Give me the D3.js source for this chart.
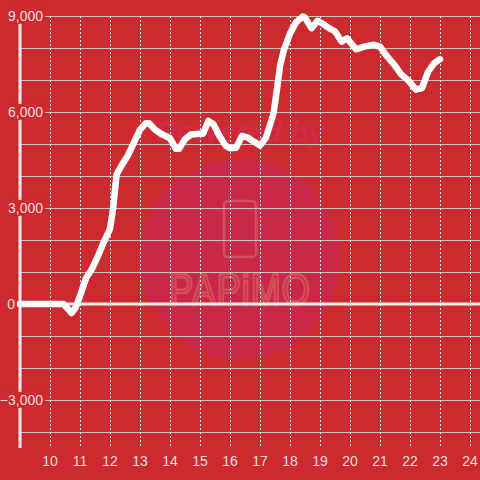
<!DOCTYPE html>
<html>
<head>
<meta charset="utf-8">
<script src="https://cdn.jsdelivr.net/npm/d3@7"></script>
<style>
  html, body { margin: 0; padding: 0; background: #cc2a2f; }
  #chart { width: 480px; height: 480px; }
  text { font-family: "Liberation Sans", Arial, sans-serif; }
</style>
</head>
<body>
<div id="chart"></div>
<script>
// ============================================================
//  Data (hour of day, value)
// ============================================================

const hours = [
  9.0, 10.45, 10.72, 10.85, 11.0, 11.2, 11.4, 11.6, 11.8, 12.0,
  12.1, 12.22, 12.4, 12.6, 12.8, 13.0, 13.2, 13.3, 13.5, 13.7,
  14.0, 14.2, 14.3, 14.5, 14.7, 15.0, 15.1, 15.28, 15.45, 15.65,
  15.85, 16.0, 16.2, 16.4, 16.6, 16.75, 17.0, 17.2, 17.45, 17.55,
  17.67, 17.8, 18.0, 18.2, 18.42, 18.5, 18.72, 18.92, 19.1, 19.3,
  19.5, 19.72, 19.9, 20.2, 20.5, 20.8, 21.0, 21.2, 21.5, 21.7,
  21.95, 22.2, 22.4, 22.6, 22.8, 23.0
];
const values = [
  0, 0, -280, -120, 250, 800, 1100, 1500, 1950, 2350,
  2950, 4050, 4350, 4650, 5050, 5450, 5650, 5650, 5450, 5320,
  5180, 4850, 4850, 5150, 5300, 5320, 5320, 5720, 5620, 5250,
  4950, 4870, 4880, 5250, 5200, 5100, 4950, 5200, 5950, 6600,
  7450, 7950, 8450, 8800, 8980, 8950, 8620, 8850, 8750, 8620,
  8520, 8200, 8300, 7960, 8050, 8100, 8040, 7780, 7450, 7180,
  6980, 6700, 6750, 7250, 7520, 7650
];

const xTicks = [10, 11, 12, 13, 14, 15, 16, 17, 18, 19, 20, 21, 22, 23, 24];
const yGrid = [-4000, -3000, -2000, -1000, 1000, 2000, 3000, 4000, 5000, 6000, 7000, 8000, 9000];
const yLabels = [-3000, 0, 3000, 6000, 9000];

// ============================================================
//  Chart
// ============================================================

const W = 480, H = 480;
const bg = '#cc2a2f';

const svg = d3.select('#chart').append('svg')
  .attr('width', W)
  .attr('height', H);

svg.append('rect').attr('width', W).attr('height', H).attr('fill', bg);

const x = d3.scaleLinear().domain([9, 24 + 1 / 3]).range([20, 480]);
const y = d3.scaleLinear().domain([-4500, 9000]).range([448, 16]);

// watermark
const wm = svg.append('g').attr('class', 'watermark');
wm.append('circle').attr('cx', 240).attr('cy', 259).attr('r', 100).attr('fill', '#ca2848');
wm.append('text')
  .attr('x', 241).attr('y', 142)
  .attr('text-anchor', 'middle')
  .attr('font-size', 30).attr('font-weight', 'bold').attr('font-style', 'italic')
  .attr('fill', '#d02c4a')
  .text('Powered by');
wm.append('rect')
  .attr('x', 224).attr('y', 201).attr('width', 32).attr('height', 56).attr('rx', 4)
  .attr('fill', 'none').attr('stroke', '#d4505a').attr('stroke-width', 2.5);
wm.append('text')
  .attr('transform', 'translate(240,305) scale(1,1.25)')
  .attr('text-anchor', 'middle')
  .attr('font-size', 36).attr('letter-spacing', 1)
  .attr('fill', 'none').attr('stroke', '#d4505a').attr('stroke-width', 2)
  .attr('font-family', '"DejaVu Sans Mono", monospace')
  .text('PAPiMO');

// horizontal grid
svg.append('g').selectAll('line').data(yGrid).join('line')
  .attr('x1', 21).attr('x2', W)
  .attr('y1', d => Math.round(y(d)) + 0.5).attr('y2', d => Math.round(y(d)) + 0.5)
  .attr('stroke', '#c9c4c4').attr('stroke-width', 1.2);

// vertical dashed grid
svg.append('g').selectAll('line').data(xTicks).join('line')
  .attr('x1', d => Math.round(x(d)) + 0.5).attr('x2', d => Math.round(x(d)) + 0.5)
  .attr('y1', y(9000)).attr('y2', y(-4500))
  .attr('stroke', '#ececec').attr('stroke-width', 1)
  .attr('stroke-dasharray', '2,2');

// y axis line
svg.append('line')
  .attr('x1', x(9)).attr('x2', x(9))
  .attr('y1', y(9000)).attr('y2', y(-4500))
  .attr('stroke', '#f2eeee').attr('stroke-width', 3);

// zero line
svg.append('line')
  .attr('x1', 17).attr('x2', W)
  .attr('y1', y(0)).attr('y2', y(0))
  .attr('stroke', '#f4f0f0').attr('stroke-width', 3);

// y labels with background boxes
const fmt = d3.format(',');
const yl = svg.append('g').selectAll('g').data(yLabels).join('g');
yl.append('text')
  .attr('x', d => d === 0 ? 15 : 43)
  .attr('y', d => y(d))
  .attr('dy', '0.35em')
  .attr('text-anchor', 'end')
  .attr('font-size', 14)
  .attr('fill', '#f3dede')
  .text(d => fmt(d));
yl.each(function () {
  const t = d3.select(this).select('text');
  const b = t.node().getBBox();
  d3.select(this).insert('rect', 'text')
    .attr('x', b.x - 1).attr('y', b.y)
    .attr('width', b.width + 3).attr('height', b.height)
    .attr('fill', bg);
});

// x labels
svg.append('g').selectAll('text').data(xTicks).join('text')
  .attr('x', d => x(d))
  .attr('y', 466)
  .attr('text-anchor', 'middle')
  .attr('font-size', 14)
  .attr('fill', '#f3dede')
  .text(d => d);

// data line
const pts = hours.map((h, i) => [h, values[i]]);
svg.append('path')
  .datum(pts)
  .attr('fill', 'none')
  .attr('stroke', '#ffffff')
  .attr('stroke-width', 6.5)
  .attr('stroke-linejoin', 'round')
  .attr('stroke-linecap', 'round')
  .attr('d', d3.line().x(d => x(d[0])).y(d => y(d[1])));
</script>
</body>
</html>
